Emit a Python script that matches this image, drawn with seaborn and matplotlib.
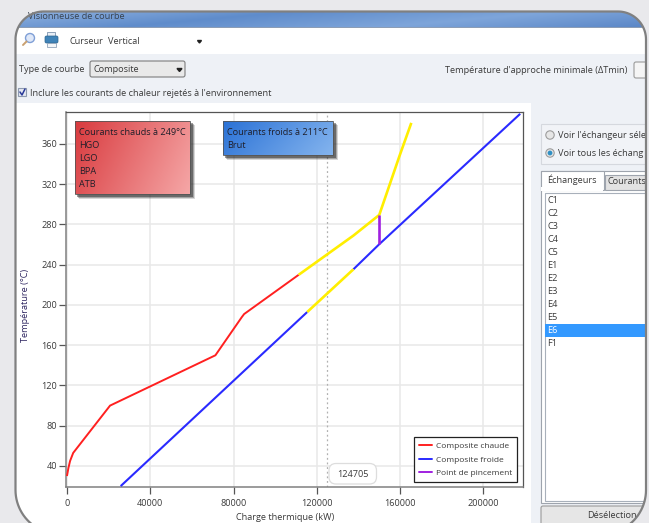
import numpy as np
import pandas as pd
import matplotlib
matplotlib.use("Agg")
import matplotlib.pyplot as plt
from matplotlib.patches import FancyBboxPatch, Rectangle, Circle, Polygon
from matplotlib.lines import Line2D
from matplotlib.colors import LinearSegmentedColormap
import seaborn as sns

# ---- chart data ----
hot_load = [0, 700, 1500, 3000, 20700, 71300, 84000, 85100, 111300]
hot_temp = [30, 38, 45, 53, 100, 150, 188, 191, 230]
hot_pinch_load = [111300, 137600, 150000, 159700, 165400]
hot_pinch_temp = [230, 269, 289.5, 348, 381]
cold_low_load = [25800, 115400]
cold_low_temp = [20, 193]
cold_pinch_load = [115400, 137600]
cold_pinch_temp = [193, 235.5]
cold_high_load = [137600, 150000, 217700]
cold_high_temp = [235.5, 260.4, 390]
pinch_load = [150000, 150000]
pinch_temp = [260.4, 289.5]
cursor_load = 124705
x_ticks = [0, 40000, 80000, 120000, 160000, 200000]
y_ticks = [40, 80, 120, 160, 200, 240, 280, 320, 360]
hot_streams = ["Courants chauds à 249°C", "HGO", "LGO", "BPA", "ATB"]
cold_streams = ["Courants froids à 211°C", "Brut"]
exchangers = ["C1", "C2", "C3", "C4", "C5", "E1", "E2", "E3", "E4", "E5", "E6", "F1"]
legend_labels = ["Composite chaude", "Composite froide", "Point de pincement"]

W, H = 649, 523
sns.set_theme(style="white")
plt.rcParams["font.family"] = ["Open Sans", "DejaVu Sans"]
TXT = "#3a3a3a"
FS = 6.6
fig = plt.figure(figsize=(W / 100, H / 100), dpi=100, facecolor="#e9e9ec")

# ---- window chrome, in pixel coordinates ----
bg = fig.add_axes([0, 0, 1, 1], zorder=0)
bg.set_xlim(0, W); bg.set_ylim(H, 0); bg.axis("off")

def arc(cx, cy, r, a0, a1):
    a = np.radians(np.linspace(a0, a1, 24))
    return np.c_[cx + r * np.cos(a), cy + r * np.sin(a)]

WL, WR, WT, WB, RT, RB = 15.5, 646, 11.5, 534, 28, 44
outline = np.vstack([
    arc(WL + RT, WT + RT, RT, 180, 270),
    arc(WR - RT, WT + RT, RT, 270, 360),
    arc(WR - RB, WB - RB, RB, 0, 90),
    arc(WL + RB, WB - RB, RB, 90, 180),
])
frame = Polygon(outline, closed=True, fc="white", ec="none", zorder=0)
bg.add_patch(frame)

def clip(a):
    a.set_clip_path(frame)
    return a

def rect(x, y, w, h, fc, ec="none", lw=0, z=1):
    return clip(bg.add_patch(Rectangle((x, y), w, h, fc=fc, ec=ec, lw=lw, zorder=z)))

def label(axes, x, y, s, size=FS, color=TXT, ha="left", va="center", **kw):
    return axes.text(x, y, s, fontsize=size, color=color, ha=ha, va=va, **kw)

def blabel(x, y, s, **kw):
    t = label(bg, x, y, s, zorder=4, **kw)
    t.set_clip_path(frame)
    return t

def gradient(axes, x, y, w, h, cols, z):
    cm = LinearSegmentedColormap.from_list("g", cols)
    gx, gy = np.meshgrid(np.linspace(0, 1, 80), np.linspace(0, 1, 40))
    return axes.imshow(0.78 * gx + 0.22 * gy, cmap=cm, extent=(x, x + w, y + h, y),
                       aspect="auto", zorder=z, interpolation="bilinear")

# title bar
tb = gradient(bg, 15, 12, 632, 16, ["#8db0df", "#5f8ccb", "#7ea5da", "#5a86c6"], 1)
tb.set_clip_path(frame)
bg.set_xlim(0, W); bg.set_ylim(H, 0)
t = blabel(28, 16.5, "Visionneuse de courbe", color="#38424f")
t.set_clip_path(Rectangle((31, 0), 200, 40, transform=bg.transData))
rect(15, 27, 632, 1, "#8c9db5", z=2)
rect(15, 28, 632, 26, "#ffffff")
rect(15, 54, 632, 49, "#eef1f6")
rect(15, 103, 516, 431, "#ffffff")
rect(531, 103, 116, 431, "#eef1f6")

# toolbar icons
bg.add_patch(Circle((30, 38), 4.5, fc="#dfe8f8", ec="#7f9fd6", lw=1.0, zorder=3))
bg.add_line(Line2D([26.5, 23], [41.5, 45], color="#c9a070", lw=1.4, zorder=3))
bg.add_patch(Rectangle((47, 32), 8, 4, fc="#e8eef6", ec="#7d93ad", lw=0.6, zorder=3))
bg.add_patch(FancyBboxPatch((45, 36), 13, 7, boxstyle="round,pad=0,rounding_size=1.5",
                            fc="#3f83b8", ec="#2d658f", lw=0.5, zorder=3))
bg.add_patch(Rectangle((47, 43), 9, 3.5, fc="#f4f6f8", ec="#7d93ad", lw=0.5, zorder=3))
for sx in (39.5, 63.5):
    rect(sx, 31, 0.8, 20, "#cfd3d9", z=3)
blabel(69.5, 41, "Curseur")
blabel(108, 42, "Vertical")
bg.fill([197.5, 201.5, 199.5], [40.5, 40.5, 43], color="#222222", zorder=4)

# curve type row
blabel(19, 69.5, "Type de courbe")
bg.add_patch(FancyBboxPatch((90, 61), 95, 16, boxstyle="round,pad=0,rounding_size=2",
                            fc="#e9e9e9", ec="#7d7d7d", lw=0.8, zorder=3))
blabel(93, 70, "Composite")
bg.fill([177, 182, 179.5], [68.5, 68.5, 71.5], color="#222222", zorder=4)
blabel(445, 70.5, "Température d'approche minimale (ΔTmin)")
clip(bg.add_patch(FancyBboxPatch((634, 62), 20, 16, boxstyle="round,pad=0,rounding_size=2",
                                 fc="#f5f5f5", ec="#9a9a9a", lw=0.8, zorder=3)))
bg.add_patch(Rectangle((18, 88), 8, 8, fc="#e5e9f2", ec="#8e9ab0", lw=0.8, zorder=3))
bg.add_line(Line2D([20, 22, 25], [92, 95, 89], color="#2a3a9a", lw=1.1, zorder=4))
blabel(30, 93, "Inclure les courants de chaleur rejetés à l'environnement")

# right panel
rect(540.5, 123.5, 110, 40, "#f1f3f7", ec="#d5d8de", lw=0.8, z=2)
for cy, on in ((135, False), (153, True)):
    bg.add_patch(Circle((550, cy), 4.2, fc="#e6e6e6", ec="#9d9d9d", lw=0.8, zorder=3))
    if on:
        bg.add_patch(Circle((550, cy), 2.4, fc="#2f8fc4", ec="none", zorder=4))
blabel(558, 135, "Voir l'échangeur séle")
blabel(558, 153, "Voir tous les échang")
rect(540.5, 170.5, 110, 332, "#ffffff", ec="#9ea4ad", lw=0.8, z=2)
rect(604.5, 174.5, 50, 15, "#e2e2e2", ec="#9ea4ad", lw=0.8, z=2)
rect(540.5, 170.5, 63, 19, "#ffffff", ec="#9ea4ad", lw=0.8, z=3)
rect(541, 187, 62, 4, "#ffffff", z=3)
blabel(547, 179.5, "Échangeurs")
blabel(607.5, 181, "Courants")
rect(544.5, 192.5, 110, 308, "#ffffff", ec="#a8b0ba", lw=0.8, z=3)
for i, name in enumerate(exchangers):
    y = 200.5 + i * 13
    if name == "E6":
        rect(545, y - 6.5, 110, 13, "#3399ff", z=3)
    blabel(547.5, y, name, color="#ffffff" if name == "E6" else TXT)
clip(bg.add_patch(FancyBboxPatch((541, 506), 120, 22, boxstyle="round,pad=0,rounding_size=2",
                                 fc="#e6e6e6", ec="#9a9a9a", lw=0.8, zorder=3)))
blabel(587, 515, "Désélection")

# window border
bg.add_patch(Polygon(outline, closed=True, fc="none", ec="#808080", lw=1.6, zorder=6))

# ---- the chart ----
px0, px1, py0, py1 = 65.5, 522.5, 112, 487
ax = fig.add_axes([px0 / W, 1 - py1 / H, (px1 - px0) / W, (py1 - py0) / H], zorder=2)
ax.set_facecolor("white")

def frame_of(load, temp, series):
    return pd.DataFrame({"load": load, "temp": temp, "series": series})

palette = {"hot": "#ff2020", "hot_pinch": "#ffee00", "cold": "#2a2aff",
           "cold_pinch": "#ffee00", "cold2": "#2a2aff", "pinch": "#a020e0"}
widths = {"hot": 1.4, "hot_pinch": 1.9, "cold": 1.5, "cold_pinch": 1.9, "cold2": 1.5, "pinch": 1.9}
data = pd.concat([
    frame_of(hot_load, hot_temp, "hot"),
    frame_of(cold_low_load, cold_low_temp, "cold"),
    frame_of(cold_high_load, cold_high_temp, "cold2"),
    frame_of(hot_pinch_load, hot_pinch_temp, "hot_pinch"),
    frame_of(cold_pinch_load, cold_pinch_temp, "cold_pinch"),
    frame_of(pinch_load, pinch_temp, "pinch"),
], ignore_index=True)
sns.lineplot(data=data, x="load", y="temp", hue="series", palette=palette, sort=False,
             size="series", sizes=widths, estimator=None, errorbar=None, legend=False,
             ax=ax, zorder=3, solid_capstyle="butt")

ax.set_xlim(-700, 218800)
ax.set_ylim(19.1, 391.8)
ax.set_xticks(x_ticks); ax.set_yticks(y_ticks)
ax.grid(True, color="#e8e8e8", lw=1.1, zorder=0)
ax.set_axisbelow(True)
ax.axvline(cursor_load, color="#b0b0b0", lw=0.9, ls=(0, (1.5, 2.2)), zorder=2)
ax.tick_params(axis="x", length=5, width=0.9, color="#555555", labelcolor=TXT,
               labelsize=FS, pad=4, bottom=True)
ax.tick_params(axis="y", length=5, width=0.9, color="#555555", labelcolor=TXT,
               labelsize=FS, pad=1, left=True)
ax.set_xlabel("Charge thermique (kW)", fontsize=FS, color=TXT)
ax.xaxis.set_label_coords((285 - px0) / (px1 - px0), (py1 - 513) / (py1 - py0), ax.transAxes)
ax.set_ylabel("Température (°C)", fontsize=FS, color="#2e2560")
ax.yaxis.set_label_coords((30 - px0) / (px1 - px0), (py1 - 305) / (py1 - py0), ax.transAxes)
for side, sp in ax.spines.items():
    sp.set_visible(True)
    sp.set_linewidth(0.9)
    sp.set_color("#555555")
ax.spines["left"].set_color("#808080")
ax.spines["bottom"].set_color("#808080")
ax.spines["left"].set_linewidth(1.1)
ax.spines["bottom"].set_linewidth(1.1)

handles = [Line2D([], [], color=palette[k], lw=1.4) for k in ("hot", "cold", "pinch")]
leg = ax.legend(handles, legend_labels, loc="lower right", fontsize=6.0, frameon=True,
                fancybox=False, edgecolor="#222222", framealpha=1, borderpad=0.6,
                labelspacing=0.68, handlelength=1.5, handletextpad=0.5,
                bbox_to_anchor=((517 - px0) / (px1 - px0), (py1 - 482) / (py1 - py0)),
                borderaxespad=0)
leg.get_frame().set_linewidth(0.9)
leg.set_zorder(6)
for t in leg.get_texts():
    t.set_color(TXT)

# ---- overlays on the chart, in pixel coordinates ----
ov = fig.add_axes([0, 0, 1, 1], zorder=3)
ov.set_xlim(0, W); ov.set_ylim(H, 0); ov.axis("off"); ov.patch.set_alpha(0)

def stream_box(x, y, w, h, cols, lines):
    for d, a in ((4.5, 0.18), (3.5, 0.28), (2.5, 0.45)):
        ov.add_patch(Rectangle((x + d - 1, y + d - 1), w + 1, h + 1, fc="#222222",
                               ec="none", alpha=a, zorder=2))
    gradient(ov, x, y, w, h, cols, 3)
    ov.add_patch(Rectangle((x, y), w, h, fc="none", ec="#555555", lw=0.6, zorder=4))
    for i, s in enumerate(lines):
        label(ov, x + 4, y + 11.5 + i * 12.9, s, color="#1f1f2a", zorder=5)

stream_box(75, 121, 115, 73, ["#d93b3f", "#f5a6a6"], hot_streams)
stream_box(223, 121, 110, 34, ["#2b72d6", "#84b4ee"], cold_streams)
ov.set_xlim(0, W); ov.set_ylim(H, 0)
ov.add_patch(FancyBboxPatch((329, 463.5), 47.5, 20.5, boxstyle="round,pad=0,rounding_size=7",
                            fc="white", ec="#dddddd", lw=0.9, zorder=3))
label(ov, 353, 474.5, f"{cursor_load}", ha="center", zorder=4)

fig.savefig("out.png", dpi=100, facecolor=fig.get_facecolor())
